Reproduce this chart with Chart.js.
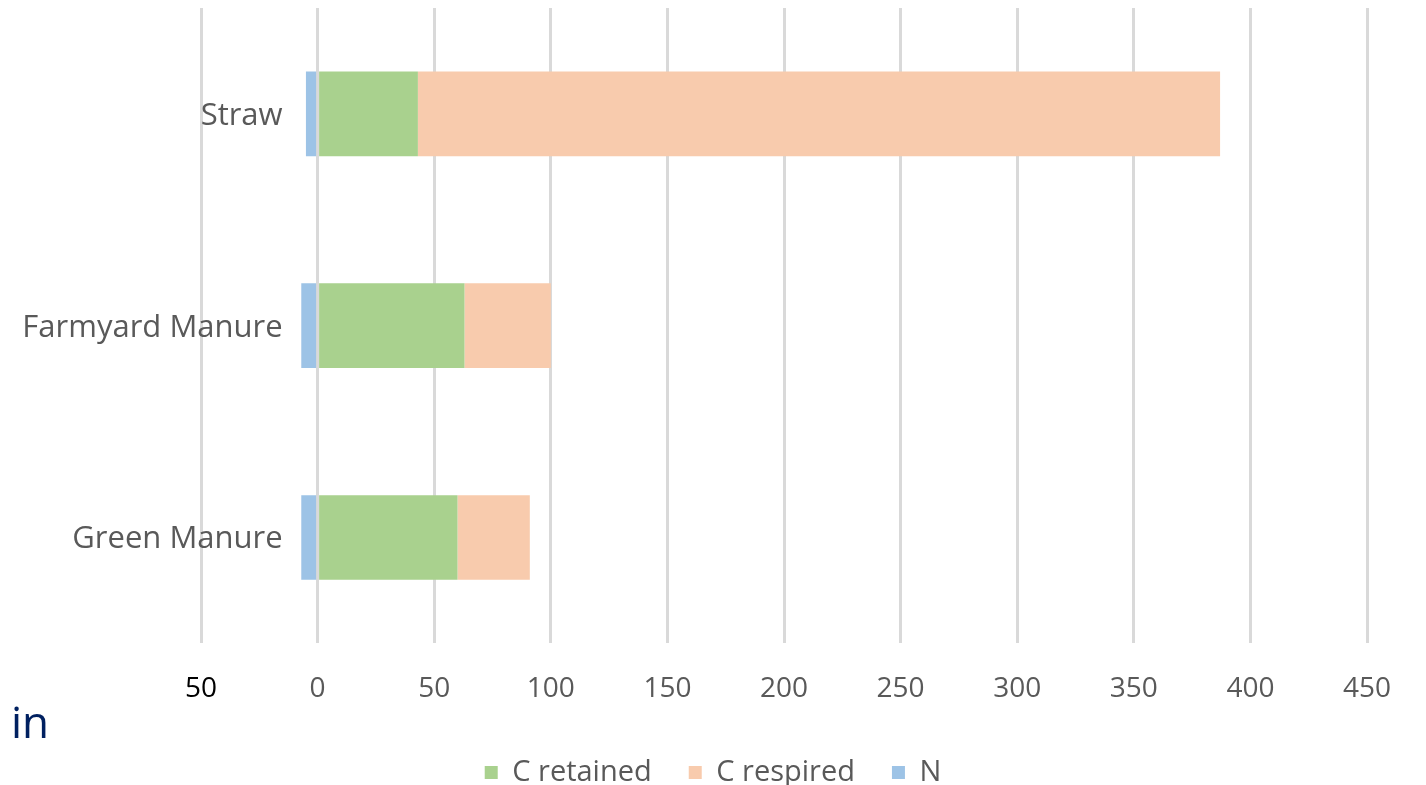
<!DOCTYPE html>
<html>
<head>
<meta charset="utf-8">
<script src="https://cdn.jsdelivr.net/npm/chart.js@4/dist/chart.umd.min.js"></script>
<style>
  html, body { margin: 0; padding: 0; background: #fff; }
  #wrap { position: relative; width: 1426px; height: 785px; }
  #note { position: absolute; left: 11px; top: 699px; font: 44px "Open Sans", sans-serif; color: #002060; line-height: 1; }
</style>
</head>
<body>
<div id="wrap">
  <canvas id="residueChart" width="1426" height="785"></canvas>
  <div id="note">in</div>
</div>
<script>
const categories = ['Straw', 'Farmyard Manure', 'Green Manure'];
const cRetained = [43, 63, 60];
const cRespired = [344, 37, 31];
const nitrogen = [-5, -7, -7];
const xTicks = [-50, 0, 50, 100, 150, 200, 250, 300, 350, 400, 450];

const GREY = '#595959';
const FONT = '"Open Sans", sans-serif';

// category labels sit next to the zero line, like the Excel original
const zeroAxisLabels = {
    id: 'zeroAxisLabels',
    afterDatasetsDraw(chart) {
        const { ctx, scales: { x, y } } = chart;
        const x0 = x.getPixelForValue(0);
        ctx.save();
        ctx.font = '31px ' + FONT;
        ctx.fillStyle = GREY;
        ctx.textAlign = 'right';
        ctx.textBaseline = 'middle';
        chart.data.labels.forEach((label, i) => {
            ctx.fillText(label, x0 - 35, y.getPixelForValue(i) + 2);
        });
        ctx.restore();
    }
};

const ctx = document.getElementById('residueChart').getContext('2d');
new Chart(ctx, {
    type: 'bar',
    data: {
        labels: categories,
        datasets: [
            { label: 'C retained', data: cRetained, backgroundColor: '#a9d18e' },
            { label: 'C respired', data: cRespired, backgroundColor: '#f8cbad' },
            { label: 'N', data: nitrogen, backgroundColor: '#9dc3e6' }
        ]
    },
    options: {
        indexAxis: 'y',
        responsive: false,
        animation: false,
        categoryPercentage: 1,
        barPercentage: 0.4,
        layout: { padding: { left: 0, right: 0, top: 8, bottom: 0 } },
        scales: {
            x: {
                stacked: true,
                min: -50,
                max: 450,
                afterBuildTicks: axis => { axis.ticks = xTicks.map(v => ({ value: v })); },
                afterFit: s => { s.height -= 14; },
                grid: { color: '#d9d9d9', lineWidth: 3, drawTicks: false },
                border: { display: false },
                ticks: {
                    padding: 29,
                    autoSkip: false,
                    maxRotation: 0,
                    font: { family: FONT, size: 28 },
                    color: c => c.tick && c.tick.value === -50 ? '#000' : GREY,
                    callback: v => v === -50 ? '50' : String(v)
                }
            },
            y: {
                stacked: true,
                grid: { display: false },
                border: { display: false },
                ticks: { display: false },
                afterFit: s => { s.width = 201; }
            },
            spacer: {
                type: 'category',
                position: 'right',
                display: true,
                grid: { display: false },
                border: { display: false },
                ticks: { display: false },
                afterFit: s => { s.width = 59; }
            }
        },
        plugins: {
            legend: {
                position: 'bottom',
                maxHeight: 64,
                labels: {
                    boxWidth: 13,
                    boxHeight: 13,
                    padding: 37,
                    color: GREY,
                    font: { family: FONT, size: 29 }
                }
            },
            tooltip: { enabled: false }
        }
    },
    plugins: [zeroAxisLabels]
});
</script>
</body>
</html>
